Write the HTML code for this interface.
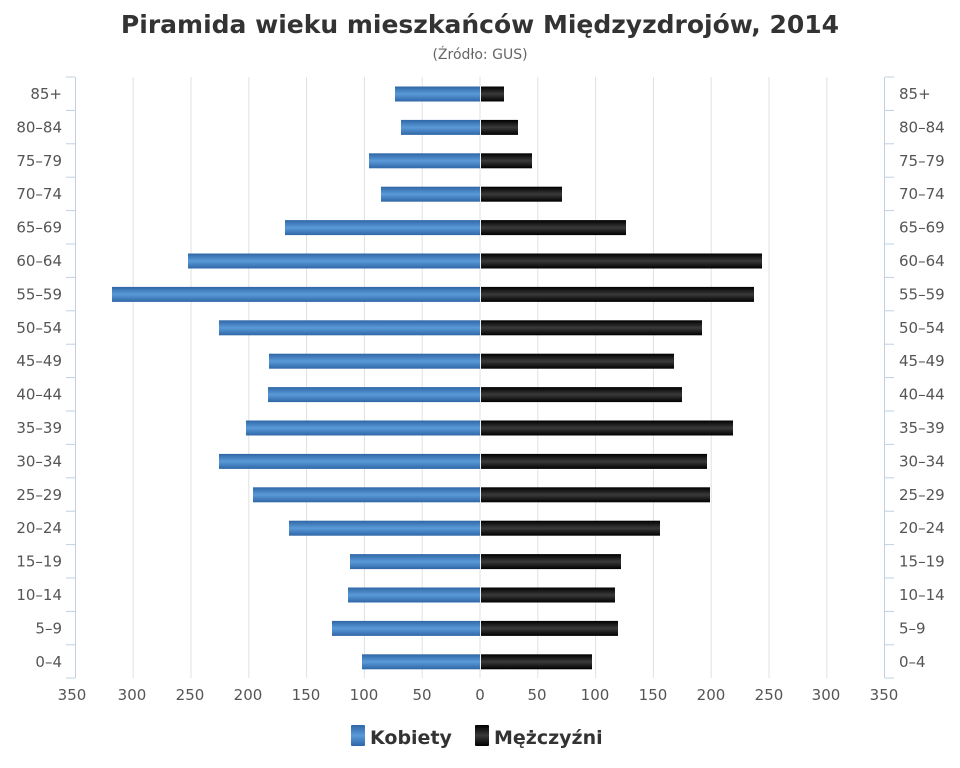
<!DOCTYPE html>
<html><head><meta charset="utf-8"><style>body{margin:0;background:#fff}svg{display:block}text{font-family:"DejaVu Sans","Liberation Sans",sans-serif}</style></head>
<body>
<svg width="960" height="768" xmlns="http://www.w3.org/2000/svg">
<defs>
<linearGradient id="b" x1="0" y1="0" x2="0" y2="1"><stop offset="0" stop-color="#2f66a6"/><stop offset="0.5" stop-color="#5a9ad8"/><stop offset="1" stop-color="#2f66a6"/></linearGradient>
<linearGradient id="k" x1="0" y1="0" x2="0" y2="1"><stop offset="0" stop-color="#000"/><stop offset="0.5" stop-color="#3a3a3a"/><stop offset="1" stop-color="#000"/></linearGradient>
</defs>
<text x="480" y="33" text-anchor="middle" font-size="25" font-weight="bold" fill="#333">Piramida wieku mieszkańców Międzyzdrojów, 2014</text>
<text x="480" y="59" text-anchor="middle" font-size="14" fill="#666">(Źródło: GUS)</text>
<g stroke="#e0e0e0" stroke-width="1">
<line x1="133.2" y1="77" x2="133.2" y2="678"/><line x1="191" y1="77" x2="191" y2="678"/><line x1="248.8" y1="77" x2="248.8" y2="678"/><line x1="306.6" y1="77" x2="306.6" y2="678"/><line x1="364.4" y1="77" x2="364.4" y2="678"/><line x1="422.2" y1="77" x2="422.2" y2="678"/><line x1="480" y1="77" x2="480" y2="678"/><line x1="537.8" y1="77" x2="537.8" y2="678"/><line x1="595.6" y1="77" x2="595.6" y2="678"/><line x1="653.4" y1="77" x2="653.4" y2="678"/><line x1="711.2" y1="77" x2="711.2" y2="678"/><line x1="769" y1="77" x2="769" y2="678"/><line x1="826.8" y1="77" x2="826.8" y2="678"/>
</g>
<g stroke="#c0d0e0" stroke-width="1">
<line x1="75.5" y1="77" x2="75.5" y2="678"/><line x1="884.5" y1="77" x2="884.5" y2="678"/>
<line x1="66" y1="77" x2="75" y2="77"/><line x1="66" y1="110.4" x2="75" y2="110.4"/><line x1="66" y1="143.8" x2="75" y2="143.8"/><line x1="66" y1="177.2" x2="75" y2="177.2"/><line x1="66" y1="210.6" x2="75" y2="210.6"/><line x1="66" y1="244" x2="75" y2="244"/><line x1="66" y1="277.4" x2="75" y2="277.4"/><line x1="66" y1="310.8" x2="75" y2="310.8"/><line x1="66" y1="344.2" x2="75" y2="344.2"/><line x1="66" y1="377.6" x2="75" y2="377.6"/><line x1="66" y1="411" x2="75" y2="411"/><line x1="66" y1="444.4" x2="75" y2="444.4"/><line x1="66" y1="477.8" x2="75" y2="477.8"/><line x1="66" y1="511.2" x2="75" y2="511.2"/><line x1="66" y1="544.6" x2="75" y2="544.6"/><line x1="66" y1="578" x2="75" y2="578"/><line x1="66" y1="611.4" x2="75" y2="611.4"/><line x1="66" y1="644.8" x2="75" y2="644.8"/><line x1="66" y1="678" x2="75" y2="678"/>
<line x1="885" y1="77" x2="894" y2="77"/><line x1="885" y1="110.4" x2="894" y2="110.4"/><line x1="885" y1="143.8" x2="894" y2="143.8"/><line x1="885" y1="177.2" x2="894" y2="177.2"/><line x1="885" y1="210.6" x2="894" y2="210.6"/><line x1="885" y1="244" x2="894" y2="244"/><line x1="885" y1="277.4" x2="894" y2="277.4"/><line x1="885" y1="310.8" x2="894" y2="310.8"/><line x1="885" y1="344.2" x2="894" y2="344.2"/><line x1="885" y1="377.6" x2="894" y2="377.6"/><line x1="885" y1="411" x2="894" y2="411"/><line x1="885" y1="444.4" x2="894" y2="444.4"/><line x1="885" y1="477.8" x2="894" y2="477.8"/><line x1="885" y1="511.2" x2="894" y2="511.2"/><line x1="885" y1="544.6" x2="894" y2="544.6"/><line x1="885" y1="578" x2="894" y2="578"/><line x1="885" y1="611.4" x2="894" y2="611.4"/><line x1="885" y1="644.8" x2="894" y2="644.8"/><line x1="885" y1="678" x2="894" y2="678"/>
</g>
<g fill="url(#b)">
<rect x="395" y="86.5" width="85" height="15"/><rect x="401" y="119.9" width="79" height="15"/><rect x="369" y="153.3" width="111" height="15"/><rect x="381" y="186.7" width="99" height="15"/><rect x="285" y="220.1" width="195" height="15"/><rect x="188" y="253.5" width="292" height="15"/><rect x="112" y="286.9" width="368" height="15"/><rect x="219" y="320.3" width="261" height="15"/><rect x="269" y="353.7" width="211" height="15"/><rect x="268" y="387.1" width="212" height="15"/><rect x="246" y="420.5" width="234" height="15"/><rect x="219" y="453.9" width="261" height="15"/><rect x="253" y="487.3" width="227" height="15"/><rect x="289" y="520.7" width="191" height="15"/><rect x="350" y="554.1" width="130" height="15"/><rect x="348" y="587.5" width="132" height="15"/><rect x="332" y="620.9" width="148" height="15"/><rect x="362" y="654.3" width="118" height="15"/>
</g>
<g fill="url(#k)">
<rect x="481" y="86.5" width="23" height="15"/><rect x="481" y="119.9" width="37" height="15"/><rect x="481" y="153.3" width="51" height="15"/><rect x="481" y="186.7" width="81" height="15"/><rect x="481" y="220.1" width="145" height="15"/><rect x="481" y="253.5" width="281" height="15"/><rect x="481" y="286.9" width="273" height="15"/><rect x="481" y="320.3" width="221" height="15"/><rect x="481" y="353.7" width="193" height="15"/><rect x="481" y="387.1" width="201" height="15"/><rect x="481" y="420.5" width="252" height="15"/><rect x="481" y="453.9" width="226" height="15"/><rect x="481" y="487.3" width="229" height="15"/><rect x="481" y="520.7" width="179" height="15"/><rect x="481" y="554.1" width="140" height="15"/><rect x="481" y="587.5" width="134" height="15"/><rect x="481" y="620.9" width="137" height="15"/><rect x="481" y="654.3" width="111" height="15"/>
</g>
<g font-size="15" fill="#555" text-anchor="end">
<text x="62" y="99">85+</text><text x="62" y="132.4">80–84</text><text x="62" y="165.8">75–79</text><text x="62" y="199.2">70–74</text><text x="62" y="232.6">65–69</text><text x="62" y="266">60–64</text><text x="62" y="299.4">55–59</text><text x="62" y="332.8">50–54</text><text x="62" y="366.2">45–49</text><text x="62" y="399.6">40–44</text><text x="62" y="433">35–39</text><text x="62" y="466.4">30–34</text><text x="62" y="499.8">25–29</text><text x="62" y="533.2">20–24</text><text x="62" y="566.6">15–19</text><text x="62" y="600">10–14</text><text x="62" y="633.4">5–9</text><text x="62" y="666.8">0–4</text>
</g>
<g font-size="15" fill="#555" text-anchor="start">
<text x="899" y="99">85+</text><text x="899" y="132.4">80–84</text><text x="899" y="165.8">75–79</text><text x="899" y="199.2">70–74</text><text x="899" y="232.6">65–69</text><text x="899" y="266">60–64</text><text x="899" y="299.4">55–59</text><text x="899" y="332.8">50–54</text><text x="899" y="366.2">45–49</text><text x="899" y="399.6">40–44</text><text x="899" y="433">35–39</text><text x="899" y="466.4">30–34</text><text x="899" y="499.8">25–29</text><text x="899" y="533.2">20–24</text><text x="899" y="566.6">15–19</text><text x="899" y="600">10–14</text><text x="899" y="633.4">5–9</text><text x="899" y="666.8">0–4</text>
</g>
<g font-size="15" fill="#555" text-anchor="middle">
<text x="72" y="700">350</text><text x="132" y="700">300</text><text x="190" y="700">250</text><text x="248" y="700">200</text><text x="306" y="700">150</text><text x="364" y="700">100</text><text x="422" y="700">50</text><text x="480" y="700">0</text><text x="537" y="700">50</text><text x="595" y="700">100</text><text x="653" y="700">150</text><text x="711" y="700">200</text><text x="769" y="700">250</text><text x="826" y="700">300</text><text x="884" y="700">350</text>
</g>
<rect x="351" y="725" width="14" height="21" fill="url(#b)" rx="1"/>
<text x="370" y="744" font-size="19" font-weight="bold" fill="#333">Kobiety</text>
<rect x="475" y="725" width="14" height="21" fill="url(#k)" rx="1"/>
<text x="494" y="744" font-size="19" font-weight="bold" fill="#333">Mężczyźni</text>
</svg>
</body></html>
